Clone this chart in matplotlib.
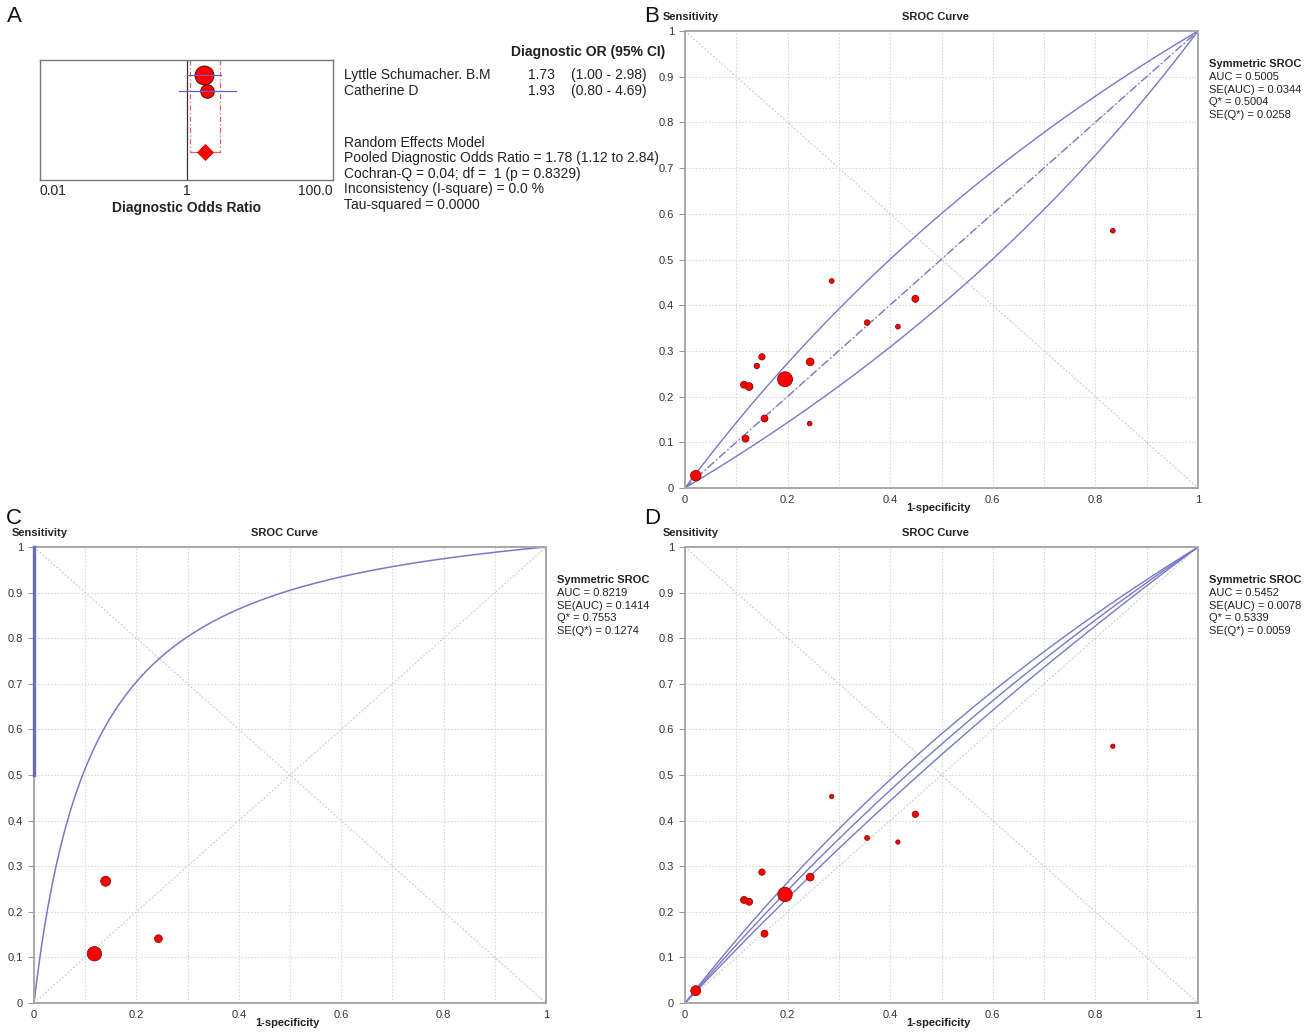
import numpy as np
import matplotlib
matplotlib.use("Agg")
import matplotlib.pyplot as plt

plt.rcParams.update({"font.family": ["Liberation Sans", "DejaVu Sans"]})

W, H = 1309, 1036
NARROW = ["Liberation Sans Narrow", "Liberation Sans", "DejaVu Sans"]

# ---------------- A: forest plot (diagnostic OR) ----------------
studies_a = ["Lyttle Schumacher. B.M", "Catherine D"]
dor = [1.73, 1.93]
dor_lo = [1.00, 0.80]
dor_hi = [2.98, 4.69]
dor_weight = [9.5, 6.8]
pooled_dor, pooled_lo, pooled_hi = 1.78, 1.12, 2.84
cochran_q, cochran_df, cochran_p = 0.04, 1, 0.8329
i_square, tau2 = 0.0, 0.0

# ---------------- SROC: per study (1-specificity, sensitivity) ----------------
fpr = [0.021, 0.195, 0.115, 0.125, 0.140, 0.150, 0.118, 0.155, 0.244, 0.243, 0.286, 0.355, 0.415, 0.449, 0.834]
tpr = [0.027, 0.238, 0.226, 0.222, 0.267, 0.287, 0.108, 0.152, 0.276, 0.141, 0.453, 0.362, 0.353, 0.414, 0.563]
weight_b = [5.3, 7.5, 3.5, 3.9, 2.8, 3.2, 3.5, 3.5, 3.9, 2.4, 2.4, 2.8, 2.4, 3.5, 2.4]
idx_c = [4, 6, 9]
weight_c = [5.0, 7.2, 3.9]
idx_d = [0, 1, 2, 3, 5, 7, 8, 10, 11, 12, 13, 14]
weight_d = [5.0, 7.2, 3.5, 3.5, 3.2, 3.5, 3.9, 2.2, 2.5, 2.2, 3.2, 2.2]

# symmetric SROC summary (AUC, SE(AUC), Q*, SE(Q*))
stats_b = [0.5005, 0.0344, 0.5004, 0.0258]
stats_c = [0.8219, 0.1414, 0.7553, 0.1274]
stats_d = [0.5452, 0.0078, 0.5339, 0.0059]
edge_segment_c = [0.5, 1.0]   # odd vertical segment on the y axis in C

BLUE = "#7878c8"
RED = "#ff0000"


def ax_px(l, t, r, b):
    return [l / W, 1 - b / H, (r - l) / W, (b - t) / H]


def fig_text(x, y, s, **kw):
    fig.text(x / W, 1 - y / H, s, **kw)


fig = plt.figure(figsize=(W / 100, H / 100), dpi=100)

# ---------- panel A ----------
axa = fig.add_axes(ax_px(40, 60, 333, 180))
axa.set_xscale("log")
axa.set_xlim(0.01, 100)
axa.set_ylim(8, 0)
rows = [1.0, 2.07]
prow = 6.13
axa.axvline(1, color="#333333", lw=0.9, zorder=1)
for x in (pooled_lo, pooled_hi):
    axa.plot([x, x], [0, prow], ls=(0, (4, 2, 1, 2)), color="#e06060", lw=0.9, zorder=1)
axa.plot([pooled_lo, pooled_hi], [prow, prow], color="#e06060", lw=0.9, zorder=1)
for y, d, lo, hi, w in zip(rows, dor, dor_lo, dor_hi, dor_weight):
    axa.plot([lo, hi], [y, y], color="#6060d0", lw=0.9, zorder=3)
    axa.plot([d], [y], "o", ms=2 * w * 0.72, mfc=RED, mec="#400000", mew=0.6, zorder=2)
axa.plot([pooled_dor], [prow], "D", ms=8.5, mfc=RED, mec="#c00000", mew=0.5, zorder=3)
axa.set_yticks([])
axa.set_xticks([0.01, 1, 100])
labs = axa.set_xticklabels(["0.01", "1", "100.0"], fontsize=10, color="#222222")
labs[0].set_ha("left"); labs[2].set_ha("right")
axa.tick_params(axis="x", length=0, pad=3)
axa.minorticks_off()
for sp in axa.spines.values():
    sp.set_color("#777777"); sp.set_linewidth(1.0)
axa.set_xlabel("Diagnostic Odds Ratio", fontsize=10, weight="bold", labelpad=2, color="#222222")

# text block of A, clipped where panel B starts
axt = fig.add_axes(ax_px(336, 40, 665, 215))
axt.set_axis_off()
axt.set_xlim(336, 665)
axt.set_ylim(215, 40)
tk = dict(fontsize=10, va="center", color="#222222", clip_on=True)
axt.text(511, 52, "Diagnostic OR (95% CI)", weight="bold", **tk)
for y, name, d, lo, hi in zip([75, 91], studies_a, dor, dor_lo, dor_hi):
    axt.text(344, y, name, **tk)
    axt.text(555, y, f"{d:.2f}", ha="right", **tk)
    axt.text(571, y, f"({lo:.2f} - {hi:.2f})", **tk)
summary = ["Random Effects Model",
           f"Pooled Diagnostic Odds Ratio = {pooled_dor:.2f} ({pooled_lo:.2f} to {pooled_hi:.2f})",
           f"Cochran-Q = {cochran_q:.2f}; df =  {cochran_df} (p = {cochran_p:.4f})",
           f"Inconsistency (I-square) = {i_square:.1f} %",
           f"Tau-squared = {tau2:.4f}"]
for k, s in enumerate(summary):
    axt.text(344, 143 + k * 15.5, s, **tk)


# ---------- SROC panels ----------
def logit(p):
    return np.log(p / (1 - p))


def sroc(x, D):
    return 1 / (1 + np.exp(-D) * (1 - x) / x)


def sroc_panel(box, idx, wts, stats, style):
    l, t, r, b = box
    ax = fig.add_axes(ax_px(l, t, r, b))
    ax.set_xlim(0, 1); ax.set_ylim(0, 1)
    ax.set_xticks(np.arange(0, 1.01, 0.1))
    ax.set_xticklabels(["0" if i == 0 else ("1" if i == 10 else (f"{i/10:.1f}" if i % 2 == 0 else ""))
                        for i in range(11)])
    ax.set_yticks(np.arange(0, 1.01, 0.1))
    ax.set_yticklabels(["0"] + [f"{i/10:.1f}" for i in range(1, 10)] + ["1"])
    ax.tick_params(axis="x", length=0, labelsize=8, colors="#333333", pad=5)
    ax.tick_params(axis="y", length=4, width=0.8, color="#999999", labelsize=8,
                   labelcolor="#333333", pad=4)
    ax.grid(True, ls=(0, (1.5, 1.5)), color="#d8d8d8", lw=0.8)
    for sp in ax.spines.values():
        sp.set_color("#a8a8a8"); sp.set_linewidth(1.4)
    ax.plot([0, 1], [0, 1], ls=(0, (1.5, 1.5)), color="#d0d0d0", lw=0.9)
    ax.plot([0, 1], [1, 0], ls=(0, (1.5, 1.5)), color="#d0d0d0", lw=0.9)

    auc, se_auc, q, se_q = stats
    D = 2 * logit(q)
    se_D = se_q / (q * (1 - q) / 2)
    xs = np.concatenate([[0], np.geomspace(1e-6, 1, 600)])
    if style == "single":
        ax.plot(xs, sroc(xs, D), color=BLUE, lw=1.1)
        ax.plot([0, 0], edge_segment_c, color="#6a6ac4", lw=2.4, clip_on=False, zorder=6)
    else:
        ax.plot(xs, sroc(xs, D), color=BLUE, lw=1.0,
                ls=(0, (6, 2, 1, 2)) if style == "dashmid" else "-")
        for sgn in (-1, 1):
            ax.plot(xs, sroc(xs, D + sgn * 1.96 * se_D), color=BLUE, lw=1.0)

    px = [fpr[i] for i in idx]
    py = [tpr[i] for i in idx]
    ax.scatter(px, py, s=[(2 * w * 0.72) ** 2 for w in wts], c=RED,
               edgecolors="#7a0000", linewidths=0.5, zorder=5, clip_on=False)

    cx = (l + r) / 2
    fig_text(l - 22, t - 14, "Sensitivity", fontsize=8, weight="bold", color="#222222",
             family=NARROW, va="center")
    fig_text(cx - 6, t - 14, "SROC Curve", fontsize=8, weight="bold", color="#222222",
             family=NARROW, va="center", ha="center")
    fig_text(cx - 3, b + 20, "1-specificity", fontsize=8, weight="bold", color="#222222",
             family=NARROW, va="center", ha="center")
    sx, sy = r + 11, t + 33
    fig_text(sx, sy, "Symmetric SROC", fontsize=8, weight="bold", color="#222222",
             family=NARROW, va="center")
    lines = [f"AUC = {auc:.4f}", f"SE(AUC) = {se_auc:.4f}", f"Q* = {q:.4f}", f"SE(Q*) = {se_q:.4f}"]
    for k, s in enumerate(lines):
        fig_text(sx, sy + 12.8 * (k + 1), s, fontsize=8, color="#222222", family=NARROW, va="center")
    return ax


sroc_panel((685, 31, 1198, 488), list(range(len(fpr))), weight_b, stats_b, "dashmid")
sroc_panel((34, 547, 546, 1003), idx_c, weight_c, stats_c, "single")
sroc_panel((685, 547, 1198, 1003), idx_d, weight_d, stats_d, "solid")

# panel letters
for lab, x, y in [("A", 14, 17), ("B", 652, 17), ("C", 14, 518), ("D", 652, 518)]:
    fig_text(x, y, lab, fontsize=16, va="center", ha="center", color="#111111")

fig.savefig("out.png", dpi=100)
